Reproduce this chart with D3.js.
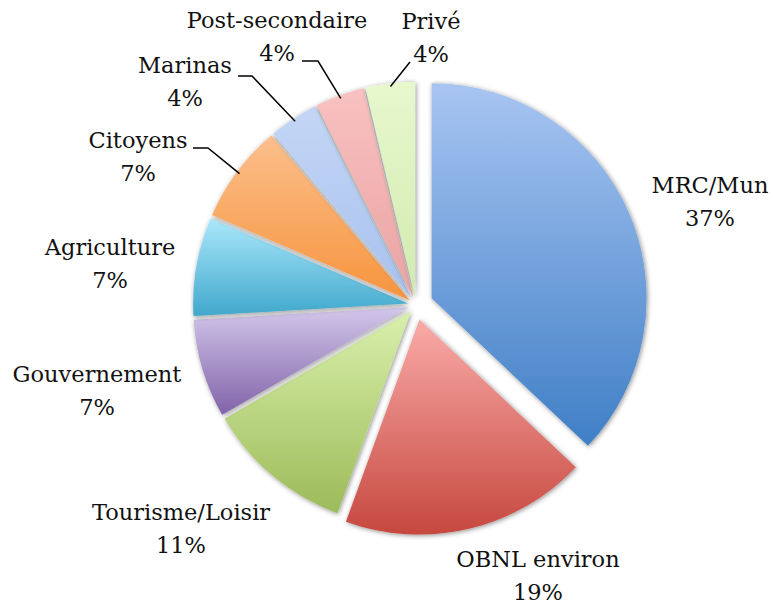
<!DOCTYPE html>
<html><head><meta charset="utf-8">
<script src="https://cdn.jsdelivr.net/npm/d3@7"></script>
<style>body{margin:0;background:#fff}svg{display:block}</style>
</head><body>
<svg id="c" width="773" height="604"></svg>
<script>
const categories = ["MRC/Mun","OBNL environ","Tourisme/Loisir","Gouvernement","Agriculture","Citoyens","Marinas","Post-secondaire","Privé"];
const counts = [10,5,3,2,2,2,1,1,1];
const percentLabels = ["37%","19%","11%","7%","7%","7%","4%","4%","4%"];
const colorTop = ["#a8c5f2","#f9aba8","#d9f0ac","#d3c7eb","#abe8fb","#fbbf8c","#c3d6f5","#f9c1c1","#e7f8cd"];
const colorBottom = ["#3f7fc6","#c6483f","#9cbb58","#8163a8","#41a8cc","#f7943d","#a8c1ee","#eaa3a3","#d2eab0"];

// layout
const cx = 416, cy = 305, R = 215;
const explode = [17, 15, 8, 8, 8, 8, 8, 8, 8];
const labelLayout = [ // [centerX, baseline1]
  [710,193],[538,567],[181,520],[97,382],[110,255],[138,148],[185,73],[277,28],[431,29]
];
const leaderStart = {6:[[238,76],[252,76]],7:[[302,61],[318,61]],8:[[410,62]],5:[[193,148],[208,148]]};

const svg = d3.select("#c");
const defs = svg.append("defs");
const f = defs.append("filter").attr("id","sh").attr("x","-20%").attr("y","-20%").attr("width","140%").attr("height","140%");
f.append("feDropShadow").attr("dx",1).attr("dy",1).attr("stdDeviation",2.5).attr("flood-color","#000").attr("flood-opacity",0.45);

categories.forEach((c,i)=>{
  const g = defs.append("linearGradient").attr("id","g"+i).attr("x1",0).attr("y1",0).attr("x2",0).attr("y2",1);
  g.append("stop").attr("offset","0%").attr("stop-color",colorTop[i]);
  g.append("stop").attr("offset","100%").attr("stop-color",colorBottom[i]);
});

const pie = d3.pie().sort(null).value(d=>d);
const arcs = pie(counts);
const arc = d3.arc().innerRadius(0).outerRadius(R);

const gp = svg.append("g").attr("transform",`translate(${cx},${cy})`);
gp.selectAll("path").data(arcs).join("path")
  .attr("d",arc)
  .attr("fill",(d,i)=>`url(#g${i})`)
  .attr("filter","url(#sh)")
  .attr("transform",(d,i)=>{
    const a=(d.startAngle+d.endAngle)/2;
    return `translate(${explode[i]*Math.sin(a)},${-explode[i]*Math.cos(a)})`;
  });

// leader lines
Object.keys(leaderStart).forEach(k=>{
  const i=+k, d=arcs[i], a=(d.startAngle+d.endAngle)/2;
  const rr = R + explode[i] - 3;
  const end=[cx+rr*Math.sin(a), cy-rr*Math.cos(a)];
  const pts = leaderStart[k].concat([end]);
  svg.append("path").attr("d",d3.line()(pts)).attr("fill","none").attr("stroke","#000").attr("stroke-width",1.5);
});

// labels
const tg = svg.append("g").attr("font-family","'DejaVu Serif', serif").attr("font-size",22.5).attr("fill","#111").attr("text-anchor","middle");
categories.forEach((c,i)=>{
  const [x,y]=labelLayout[i];
  const t=tg.append("text").attr("x",x).attr("y",y);
  t.append("tspan").attr("x",x).attr("y",y).text(c);
  t.append("tspan").attr("x",x).attr("y",y+33).text(percentLabels[i]);
});
</script>
</body></html>
